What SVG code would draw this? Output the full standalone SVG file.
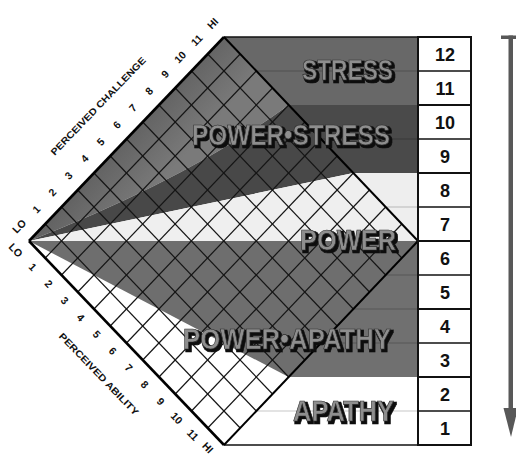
<svg xmlns="http://www.w3.org/2000/svg" width="516" height="455" viewBox="0 0 516 455">
<defs>
<style>
.big{font-family:"Liberation Sans",Arial,sans-serif;font-weight:bold;font-size:29px;fill:#8e8e8e;stroke:#2e2e2e;stroke-width:0.7px;filter:url(#drop)}
.num{font-family:"Liberation Sans",Arial,sans-serif;font-weight:bold;font-size:18px;fill:#111;text-anchor:middle}
.ax{font-family:"Liberation Sans",Arial,sans-serif;font-weight:bold;font-size:10.5px;fill:#111;text-anchor:middle;dominant-baseline:central}
.title{font-family:"Liberation Sans",Arial,sans-serif;font-weight:bold;font-size:9.5px;fill:#111;text-anchor:middle;dominant-baseline:central}
.grid line{stroke:#151515;stroke-width:1.2}
.faint{stroke:#000;stroke-opacity:0.22;stroke-width:1}
.cellthin{stroke:#111;stroke-width:1.4}
.cellthick{stroke:#111;stroke-width:2}
</style>
<filter id="drop" x="-10%" y="-30%" width="125%" height="170%">
<feMorphology in="SourceAlpha" operator="dilate" radius="0.6" result="fat"/>
<feOffset in="fat" dx="2" dy="2" result="off"/>
<feGaussianBlur in="off" stdDeviation="0.7" result="bl"/>
<feFlood flood-color="#111"/>
<feComposite in2="bl" operator="in" result="shadow"/>
<feMerge><feMergeNode in="shadow"/><feMergeNode in="SourceGraphic"/></feMerge>
</filter>
<linearGradient id="stressGrad" gradientUnits="userSpaceOnUse" x1="90" y1="160" x2="140" y2="205">
<stop offset="0" stop-color="#5e5e5e"/>
<stop offset="1" stop-color="#7a7a7a"/>
</linearGradient>
</defs>

<rect width="516" height="455" fill="#fff"/>

<!-- right-hand bands -->
<g id="bands">
<rect x="224" y="37" width="194" height="68" fill="#686868"/>
<rect x="224" y="105" width="194" height="68" fill="#4a4a4a"/>
<rect x="224" y="173" width="194" height="68" fill="#eeeeee"/>
<rect x="224" y="241" width="194" height="136" fill="#707070"/>
<rect x="224" y="377" width="194" height="68" fill="#ffffff"/>
<line class="faint" x1="256" y1="71" x2="418" y2="71"/>
<line class="faint" x1="321" y1="139" x2="418" y2="139"/>
<line class="faint" x1="386" y1="207" x2="418" y2="207"/>
<line class="faint" x1="386" y1="275" x2="418" y2="275"/>
<line class="faint" x1="353" y1="309" x2="418" y2="309"/>
<line class="faint" x1="321" y1="343" x2="418" y2="343"/>
<line class="faint" x1="256" y1="411" x2="418" y2="411"/>
<line x1="224" y1="37" x2="418" y2="37" stroke="#111" stroke-width="1.5"/>
<line x1="224" y1="445" x2="418" y2="445" stroke="#111" stroke-width="1.5"/>
</g>

<!-- diamond regions -->
<g id="diamond">
<polygon points="29,241 224,37 418,241 224,445" fill="#ffffff"/>
<path id="zone-stress" d="M29,241 L224,37 L288.67,105 Q190,178 29,241 Z" fill="url(#stressGrad)"/>
<path id="zone-power-stress" d="M29,241 Q190,178 288.67,105 L353.33,173 Z" fill="#484848"/>
<path id="zone-power" d="M29,241 L353.33,173 L418,241 Z" fill="#efefef"/>
<path id="zone-power-apathy" d="M29,241 L418,241 L288.67,377 Z" fill="#6e6e6e"/>
</g>

<g id="grid" class="grid">
<line x1="45.25" y1="258" x2="240.17" y2="54"/>
<line x1="61.5" y1="275" x2="256.33" y2="71"/>
<line x1="77.75" y1="292" x2="272.5" y2="88"/>
<line x1="94" y1="309" x2="288.67" y2="105"/>
<line x1="110.25" y1="326" x2="304.83" y2="122"/>
<line x1="126.5" y1="343" x2="321" y2="139"/>
<line x1="142.75" y1="360" x2="337.17" y2="156"/>
<line x1="159" y1="377" x2="353.33" y2="173"/>
<line x1="175.25" y1="394" x2="369.5" y2="190"/>
<line x1="191.5" y1="411" x2="385.67" y2="207"/>
<line x1="207.75" y1="428" x2="401.83" y2="224"/>
<line x1="45.25" y1="224" x2="240.17" y2="428"/>
<line x1="61.5" y1="207" x2="256.33" y2="411"/>
<line x1="77.75" y1="190" x2="272.5" y2="394"/>
<line x1="94" y1="173" x2="288.67" y2="377"/>
<line x1="110.25" y1="156" x2="304.83" y2="360"/>
<line x1="126.5" y1="139" x2="321" y2="343"/>
<line x1="142.75" y1="122" x2="337.17" y2="326"/>
<line x1="159" y1="105" x2="353.33" y2="309"/>
<line x1="175.25" y1="88" x2="369.5" y2="292"/>
<line x1="191.5" y1="71" x2="385.67" y2="275"/>
<line x1="207.75" y1="54" x2="401.83" y2="258"/>
</g>

<g id="diamond-edges" fill="none" stroke="#000">
<line x1="29" y1="241" x2="224" y2="37" stroke-width="2.6"/>
<line x1="29" y1="241" x2="224" y2="445" stroke-width="2.6"/>
<line x1="224" y1="37" x2="418" y2="241" stroke-width="2"/>
<line x1="418" y1="241" x2="224" y2="445" stroke-width="2"/>
</g>

<!-- zone labels -->
<g id="label-stress">
<text class="big" x="302" y="80" textLength="91" lengthAdjust="spacingAndGlyphs">STRESS</text>
</g>
<g id="label-power-stress">
<text class="big" x="192" y="145" textLength="198" lengthAdjust="spacingAndGlyphs">POWER•STRESS</text>
</g>
<g id="label-power">
<text class="big" x="300" y="250" textLength="96" lengthAdjust="spacingAndGlyphs">POWER</text>
</g>
<g id="label-power-apathy">
<text class="big" x="183" y="349" textLength="208" lengthAdjust="spacingAndGlyphs">POWER•APATHY</text>
</g>
<g id="label-apathy">
<text class="big" x="293" y="421" textLength="101" lengthAdjust="spacingAndGlyphs">APATHY</text>
</g>

<!-- challenge axis -->
<g id="axis-challenge">
<text class="ax" transform="translate(19,226) rotate(-46)">LO</text>
<text class="ax" transform="translate(36.1,209.1) rotate(-46)">1</text>
<text class="ax" transform="translate(52.2,192.2) rotate(-46)">2</text>
<text class="ax" transform="translate(68.3,175.3) rotate(-46)">3</text>
<text class="ax" transform="translate(84.4,158.4) rotate(-46)">4</text>
<text class="ax" transform="translate(100.5,141.5) rotate(-46)">5</text>
<text class="ax" transform="translate(116.6,124.6) rotate(-46)">6</text>
<text class="ax" transform="translate(132.7,107.7) rotate(-46)">7</text>
<text class="ax" transform="translate(148.8,90.8) rotate(-46)">8</text>
<text class="ax" transform="translate(164.9,73.9) rotate(-46)">9</text>
<text class="ax" transform="translate(180,57) rotate(-46)">10</text>
<text class="ax" transform="translate(196.5,40.1) rotate(-46)">11</text>
<text class="ax" transform="translate(212.5,23.2) rotate(-46)">HI</text>
<text class="title" transform="translate(98,106) rotate(-46)" textLength="132" lengthAdjust="spacingAndGlyphs">PERCEIVED CHALLENGE</text>
</g>

<!-- ability axis -->
<g id="axis-ability">
<text class="ax" transform="translate(16,250) rotate(46)">LO</text>
<text class="ax" transform="translate(33,266.8) rotate(46)">1</text>
<text class="ax" transform="translate(49,283.6) rotate(46)">2</text>
<text class="ax" transform="translate(65,300.4) rotate(46)">3</text>
<text class="ax" transform="translate(81,317.2) rotate(46)">4</text>
<text class="ax" transform="translate(97,334) rotate(46)">5</text>
<text class="ax" transform="translate(113,350.8) rotate(46)">6</text>
<text class="ax" transform="translate(129,367.6) rotate(46)">7</text>
<text class="ax" transform="translate(145,384.4) rotate(46)">8</text>
<text class="ax" transform="translate(161,401.2) rotate(46)">9</text>
<text class="ax" transform="translate(177,418) rotate(46)">10</text>
<text class="ax" transform="translate(193,434.8) rotate(46)">11</text>
<text class="ax" transform="translate(208,447.5) rotate(46)">HI</text>
<text class="title" transform="translate(99,374) rotate(46)" textLength="110" lengthAdjust="spacingAndGlyphs">PERCEIVED ABILITY</text>
</g>

<!-- number scale -->
<g id="scale">
<rect x="418" y="37" width="53" height="408" fill="#fff" stroke="#111" stroke-width="2"/>
<line class="cellthin" x1="418" y1="71" x2="471" y2="71"/>
<line class="cellthick" x1="418" y1="105" x2="471" y2="105"/>
<line class="cellthin" x1="418" y1="139" x2="471" y2="139"/>
<line class="cellthick" x1="418" y1="173" x2="471" y2="173"/>
<line class="cellthin" x1="418" y1="207" x2="471" y2="207"/>
<line class="cellthick" x1="418" y1="241" x2="471" y2="241"/>
<line class="cellthin" x1="418" y1="275" x2="471" y2="275"/>
<line class="cellthick" x1="418" y1="309" x2="471" y2="309"/>
<line class="cellthin" x1="418" y1="343" x2="471" y2="343"/>
<line class="cellthick" x1="418" y1="377" x2="471" y2="377"/>
<line class="cellthin" x1="418" y1="411" x2="471" y2="411"/>
<g id="cell-12"><text class="num" x="445" y="60.5">12</text></g>
<g id="cell-11"><text class="num" x="445" y="94.5">11</text></g>
<g id="cell-10"><text class="num" x="445" y="128.5">10</text></g>
<g id="cell-9"><text class="num" x="445" y="162.5">9</text></g>
<g id="cell-8"><text class="num" x="445" y="196.5">8</text></g>
<g id="cell-7"><text class="num" x="445" y="230.5">7</text></g>
<g id="cell-6"><text class="num" x="445" y="264.5">6</text></g>
<g id="cell-5"><text class="num" x="445" y="298.5">5</text></g>
<g id="cell-4"><text class="num" x="445" y="332.5">4</text></g>
<g id="cell-3"><text class="num" x="445" y="366.5">3</text></g>
<g id="cell-2"><text class="num" x="445" y="400.5">2</text></g>
<g id="cell-1"><text class="num" x="445" y="434.5">1</text></g>
</g>

<!-- arrow -->
<g id="connectors">
<rect x="501" y="35.5" width="15" height="3.5" fill="#585858"/>
<rect x="508.5" y="35.5" width="4.5" height="376" fill="#585858"/>
<polygon points="503.5,408 518,408 511,437" fill="#585858"/>
</g>
</svg>
